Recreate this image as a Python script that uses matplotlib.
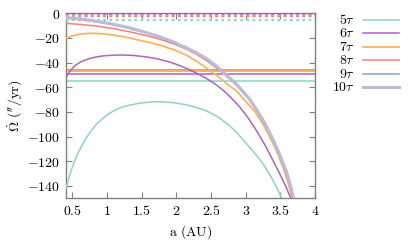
import matplotlib
matplotlib.use("Agg")
import matplotlib.pyplot as plt
from matplotlib.lines import Line2D

plt.rcParams['mathtext.fontset'] = 'cm'
plt.rcParams['font.family'] = 'serif'
plt.rcParams['font.serif'] = ['DejaVu Serif']

# curves: a (AU) and precession rate
a5 = [0.40, 0.45, 0.50, 0.55, 0.60, 0.67, 0.74, 0.83, 0.93, 1.05, 1.17, 1.30, 1.46, 1.60, 1.73,
      1.86, 1.99, 2.12, 2.24, 2.43, 2.60, 2.72, 2.86, 3.00, 3.13, 3.25, 3.35, 3.44, 3.52]
w5 = [-143, -133, -124.5, -117, -111, -104, -97.5, -91, -85.5, -80.5, -77, -74.8, -73, -72, -71.7,
      -72, -72.8, -74, -75.6, -79, -84, -89, -96, -105, -113.5, -122, -131, -140.5, -150]

a6 = [0.40, 0.45, 0.50, 0.55, 0.63, 0.74, 0.85, 0.95, 1.08, 1.22, 1.38, 1.56, 1.73, 1.90, 2.02,
      2.14, 2.28, 2.43, 2.55, 2.67, 2.79, 2.91, 3.03, 3.15, 3.27, 3.39, 3.49, 3.58, 3.65]
w6 = [-52.7, -48, -44.5, -41.9, -39, -36.8, -35.3, -34.5, -34, -33.8, -34.2, -35.3, -37, -39.5, -41.8,
      -44.6, -48.3, -52.7, -57, -62.2, -68.5, -75.7, -84.5, -94.6, -106, -119, -130, -140.6, -150]

a7 = [0.40, 0.50, 0.60, 0.70, 0.79, 0.93, 1.08, 1.25, 1.41, 1.60, 1.80, 1.97, 2.14, 2.29, 2.43,
      2.58, 2.72, 2.88, 3.00, 3.13, 3.25, 3.37, 3.47, 3.57, 3.62, 3.67]
w7 = [-20.3, -18.3, -17.0, -16.4, -16.2, -16.6, -17.6, -19.2, -21.1, -23.5, -26.5, -29.8, -33.8, -38.8, -44.2,
      -50.3, -56.8, -63.5, -71.5, -79.5, -90, -102.8, -115, -129.8, -139, -150]

a8 = [0.40, 0.60, 0.84, 1.08, 1.32, 1.56, 1.80, 1.97, 2.14, 2.29, 2.43, 2.58, 2.72, 2.83, 2.93,
      3.05, 3.15, 3.27, 3.39, 3.49, 3.585, 3.635, 3.68]
w8 = [-8.1, -9.0, -10.3, -12.3, -14.9, -18, -21.7, -25, -29, -33.3, -38.2, -44.5, -51.0, -56.5, -62.2,
      -70, -78.4, -89.5, -102.8, -115.5, -129.8, -139.5, -150]

a9 = [0.40, 0.60, 0.84, 1.08, 1.32, 1.56, 1.80, 1.97, 2.14, 2.29, 2.43, 2.58, 2.72, 2.83, 2.93,
      3.05, 3.15, 3.27, 3.39, 3.49, 3.585, 3.64, 3.685]
w9 = [-3.8, -5.0, -6.8, -9.2, -12.2, -16, -20.3, -24, -28.4, -32.5, -37, -43.5, -50.5, -56, -61.8,
      -69.6, -78, -89, -102.3, -115, -129.3, -139.5, -150]

a10 = [0.40, 0.60, 0.84, 1.08, 1.32, 1.56, 1.80, 1.97, 2.14, 2.29, 2.43, 2.58, 2.72, 2.83, 2.93,
       3.05, 3.15, 3.27, 3.39, 3.49, 3.59, 3.645, 3.69]
w10 = [-3.3, -4.5, -6.3, -8.7, -11.7, -15.5, -19.8, -23.5, -27.9, -32, -36.5, -43, -50, -55.5, -61.3,
       -69.1, -77.5, -88.5, -101.8, -114.5, -128.8, -139, -150]

# horizontal reference levels (solid) and upper levels (dotted)
flat = [-54.9, -49.2, -46.9, -46.6, -45.8, -45.6]
top = [-5.4, -0.8, -1.4, -2.0, -1.8, -2.1]

labels = [r'$5\tau$', r'$6\tau$', r'$7\tau$', r'$8\tau$', r'$9\tau$', r'$10\tau$']
colors = ['#8dd3c7', '#b163b8', '#fdb462', '#fb8072', '#80b1d3', '#bebada']
widths = [1.1, 1.1, 1.3, 1.1, 1.2, 2.2]

xs = [a5, a6, a7, a8, a9, a10]
ys = [w5, w6, w7, w8, w9, w10]

fig = plt.figure(figsize=(4.15, 2.42), dpi=100)
ax = fig.add_axes([0.158, 0.181, 0.601, 0.764])

for i in range(6):
    ax.plot(xs[i], ys[i], color=colors[i], lw=widths[i], zorder=3 + i * 0.1,
            solid_joinstyle='round')
    ax.axhline(flat[i], color=colors[i], lw=widths[i], zorder=2 + (5 - i) * 0.1)
    # dotted levels: lower taus drawn on top
    ax.axhline(top[i], color=colors[i], lw=1.6, ls=(0, (1.2, 1.6)),
               zorder=2.9 - i * 0.1)

ax.set_xlim(0.4, 4)
ax.set_ylim(-150, 0)
xt = [0.5, 1, 1.5, 2, 2.5, 3, 3.5, 4]
yt = [0, -20, -40, -60, -80, -100, -120, -140]
ax.set_xticks(xt)
ax.set_xticklabels(['$%g$' % v for v in xt])
ax.set_yticks(yt)
ax.set_yticklabels(['$%d$' % v for v in yt])
ax.tick_params(direction='in', length=4, width=0.8, color='#808080',
               top=True, right=True, labelsize=10, pad=4)
for s in ax.spines.values():
    s.set_color('#808080')
    s.set_linewidth(1.0)

ax.set_xlabel(r'$\mathrm{a\ (AU)}$', fontsize=10, labelpad=4)
ax.set_ylabel(r"$\dot{\Omega}\ ('' / \mathrm{yr})$", fontsize=10, labelpad=2)

# legend drawn by hand, labels right aligned
for i in range(6):
    yy = 1 - (20 + 13.45 * i) / 242
    fig.text(355 / 415, yy, labels[i], ha='right', va='center', fontsize=10)
    fig.add_artist(Line2D([363 / 415, 399 / 415], [yy, yy], color=colors[i],
                          lw=widths[i], transform=fig.transFigure))

fig.savefig('out.png', dpi=100)
